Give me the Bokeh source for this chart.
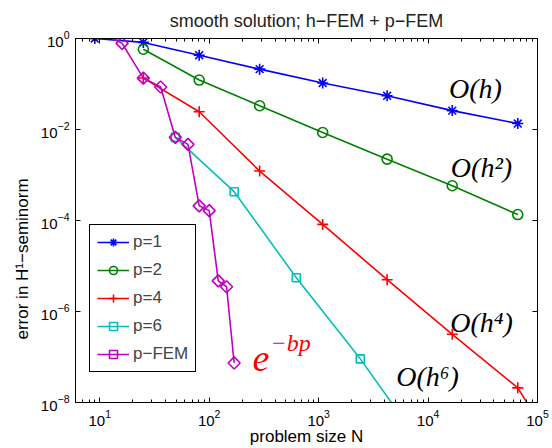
from bokeh.plotting import figure
from bokeh.models import (FixedTicker, LogAxis, Legend, LegendItem, Label,
                          CustomJSTickFormatter, Range1d, Title)
from bokeh.embed import file_html
from bokeh.resources import INLINE

# ---- data ----
N_p1 = [9, 25, 81, 289, 1089, 4225, 16641, 66049]
err_p1 = [1.0, 0.82, 0.43, 0.212, 0.105, 0.055, 0.026, 0.0135]

N_p2 = [25, 81, 289, 1089, 4225, 16641, 66049]
err_p2 = [0.58, 0.122, 0.0333, 0.0086, 0.00223, 5.8e-4, 1.35e-4]

N_p4 = [25, 81, 289, 1089, 4225, 16641, 66049, 263169]
err_p4 = [0.135, 0.0246, 1.22e-3, 8.2e-5, 5.0e-6, 3.16e-7, 2.1e-8, 1.0e-10]

N_p6 = [49, 169, 625, 2401, 9409]
err_p6 = [6.7e-3, 4.3e-4, 5.5e-6, 9.1e-8, 9.1e-10]

N_pfem = [9, 16, 25, 36, 49, 64, 81, 100, 121, 144, 169]
err_pfem = [1.57, 0.78, 0.135, 0.086, 6.7e-3, 4.7e-3, 2.1e-4, 1.65e-4,
            4.7e-6, 3.5e-6, 7.4e-8]

x_ticks = [10, 100, 1000, 10000, 100000]
y_ticks = [1e-8, 1e-6, 1e-4, 1e-2, 1]

SANS = "Liberation Sans"
SERIF = "Liberation Serif"

p = figure(width=552, height=448, x_axis_type="log", y_axis_type="log",
           x_range=Range1d(6, 1e5), y_range=Range1d(1e-8, 1),
           output_backend="svg", toolbar_location=None,
           title="smooth solution; h\u2212FEM + p\u2212FEM",
           min_border_left=75, min_border_right=15,
           min_border_top=35, min_border_bottom=45)

p.title.align = "center"
p.title.text_font = SANS
p.title.text_font_size = "18px"
p.title.text_font_style = "normal"
p.title.text_color = "#222222"
p.title.standoff = 16

p.xgrid.visible = False
p.ygrid.visible = False
p.outline_line_color = "black"
p.outline_line_alpha = 1
p.outline_line_width = 1

minor_x = [m * 10 ** e for e in range(0, 5) for m in range(2, 10)]
xt = FixedTicker(ticks=x_ticks, minor_ticks=minor_x)
yt = FixedTicker(ticks=y_ticks, minor_ticks=[])

def style_axis(ax):
    ax.axis_line_color = "black"
    ax.major_tick_line_color = "black"
    ax.minor_tick_line_color = "black"
    ax.major_tick_in = 5
    ax.major_tick_out = 0
    ax.minor_tick_in = 3
    ax.minor_tick_out = 0
    ax.major_label_text_font = SANS
    ax.major_label_text_font_size = "15px"
    ax.major_label_text_color = "black"
    ax.axis_label_text_font = SANS
    ax.axis_label_text_font_size = "17px"
    ax.axis_label_text_font_style = "normal"
    ax.axis_label_text_color = "black"

p.xaxis.ticker = xt
p.yaxis.ticker = yt
style_axis(p.xaxis[0])
style_axis(p.yaxis[0])
p.xaxis.axis_label = "problem size N"
p.xaxis.major_label_standoff = 7
p.yaxis.major_label_standoff = 6
p.xaxis.axis_label_standoff = -2

blank = CustomJSTickFormatter(code="return ''")
top = LogAxis(ticker=xt, formatter=blank)
right = LogAxis(ticker=yt, formatter=blank)
for ax in (top, right):
    style_axis(ax)
    ax.major_label_text_font_size = "0px"
    ax.major_label_standoff = 0
p.add_layout(top, "above")
p.add_layout(right, "right")

# y-axis title as a left-side title
ytitle = Title(text="error in H\u00b9\u2212seminorm", align="left",
               text_font=SANS, text_font_size="17px",
               text_font_style="normal", text_color="black",
               offset=63, standoff=12)
p.add_layout(ytitle, "left")

LW = 1.6
series = [
    ("p=1", N_p1, err_p1, "#0000ff", "asterisk", 11, 0.0),
    ("p=2", N_p2, err_p2, "#008000", "circle", 10, 0.0),
    ("p=4", N_p4, err_p4, "#ff0000", "cross", 11, 0.0),
    ("p=6", N_p6, err_p6, "#00bfbf", "square", 8, 0.0),
    ("p\u2212FEM", N_pfem, err_pfem, "#bf00bf", "square", 8.5, 0.7854),
]
items = []
for name, xs, ys, col, mk, sz, ang in series:
    l = p.line(xs, ys, line_color=col, line_width=LW)
    s = p.scatter(xs, ys, marker=mk, size=sz, angle=ang, line_color=col,
                  line_width=LW, fill_alpha=0)
    items.append(LegendItem(label=name, renderers=[l, s]))

legend = Legend(items=items, location=(14, 30))
legend.border_line_color = "black"
legend.border_line_width = 1
legend.border_line_alpha = 1
legend.background_fill_alpha = 1
legend.label_text_font = SANS
legend.label_text_font_size = "17px"
legend.glyph_width = 32
legend.glyph_height = 20
legend.label_height = 20
legend.spacing = 8
legend.padding = 7
legend.margin = 0
legend.label_standoff = 4
p.add_layout(legend)

def ann(x, y, text, size, color="black", align="center", baseline="middle"):
    p.add_layout(Label(x=x, y=y, text=text, text_font=SERIF,
                       text_font_style="italic", text_font_size=size,
                       text_color=color, text_align=align,
                       text_baseline=baseline))

ann(27100, 0.0778, "O(h)", "28px")
ann(30760, 1.49e-3, "O(h\u00b2)", "28px")
ann(30760, 5.77e-7, "O(h\u2074)", "28px")
ann(9890, 3.67e-8, "O(h\u2076)", "28px")
ann(249, 9.5e-8, "e", "38px", color="red", align="left")
ann(364, 2.0e-7, "\u2212bp", "24px", color="red", align="left")

open("out.html", "w").write(file_html(p, INLINE))
